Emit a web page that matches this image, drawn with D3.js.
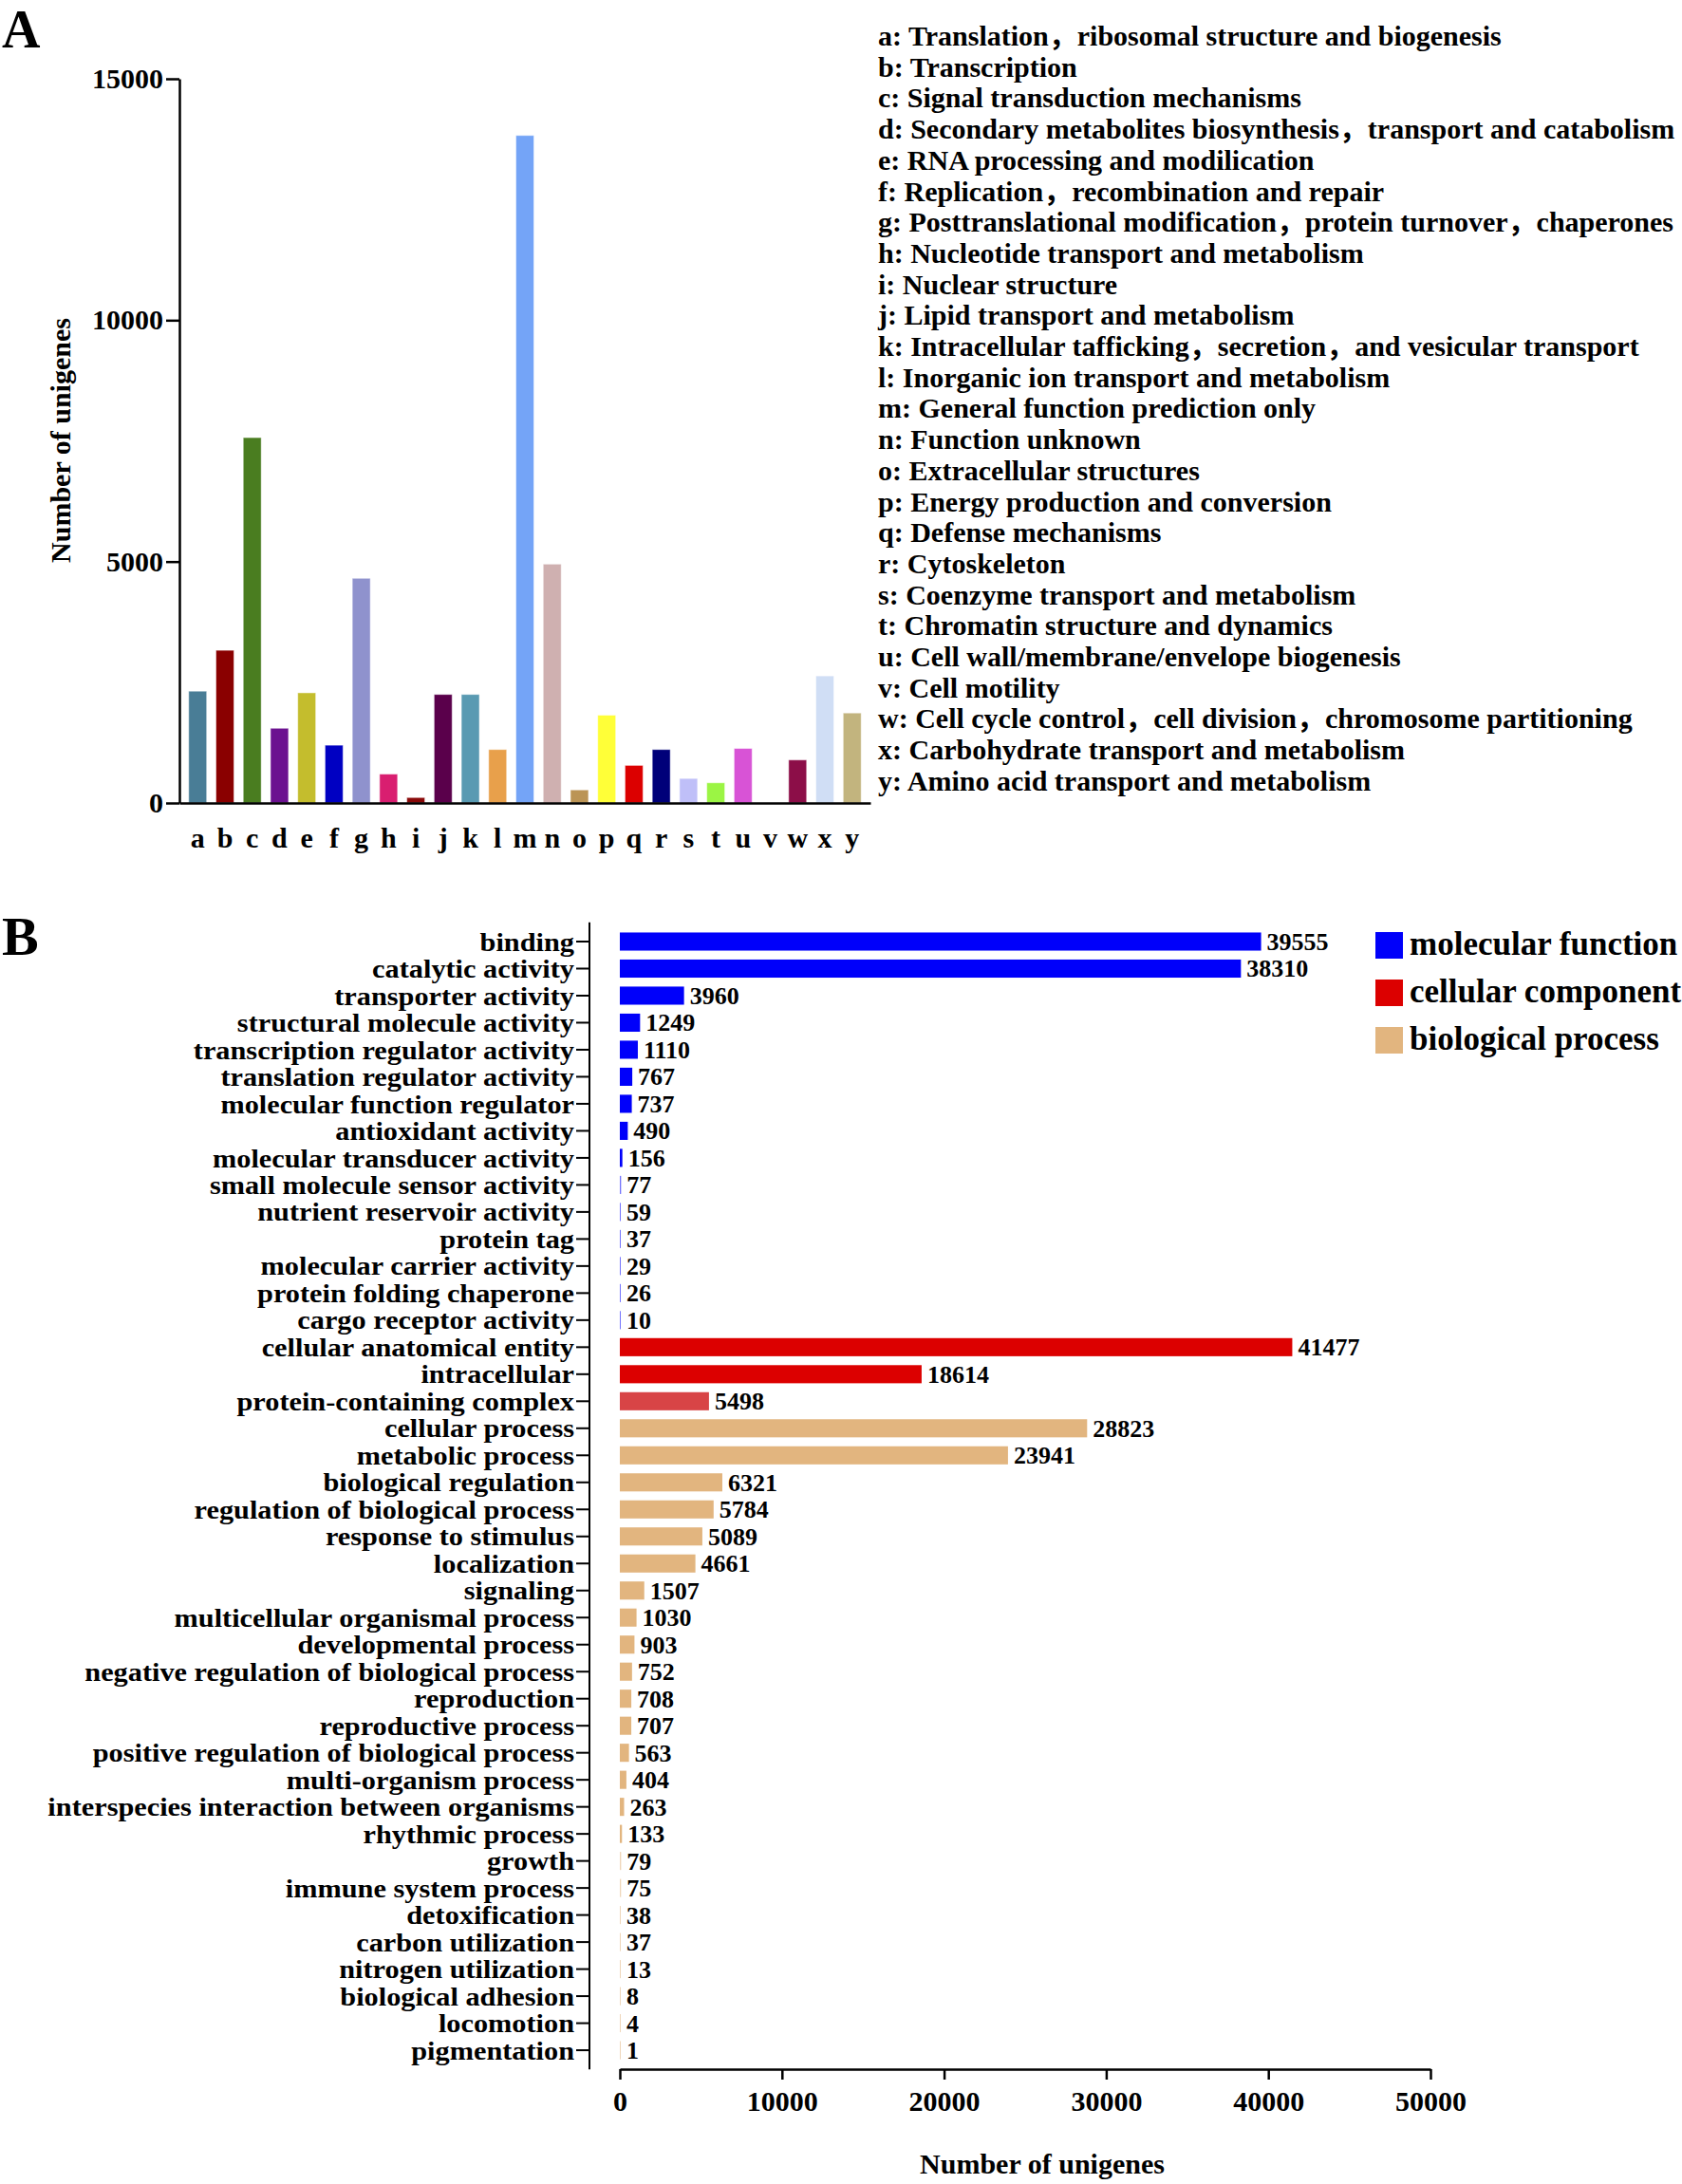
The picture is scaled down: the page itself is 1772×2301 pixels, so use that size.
<!DOCTYPE html>
<html><head><meta charset="utf-8">
<script src="https://cdn.jsdelivr.net/npm/d3@7"></script>
<style>
html,body{margin:0;padding:0;background:#fff;}
svg text{font-family:"Liberation Serif","Times New Roman",serif;font-weight:bold;fill:#000;}
svg text.legA{font-family:"Liberation Serif","Noto Sans CJK SC",serif;}
</style></head>
<body>
<svg id="chart" width="1772" height="2301"></svg>
<script>
// ---------- Panel A data ----------
const catsA = ["a","b","c","d","e","f","g","h","i","j","k","l","m","n","o","p","q","r","s","t","u","v","w","x","y"];
const valuesA = [2316,3163,7568,1548,2282,1197,4654,599,113,2248,2248,1107,13826,4948,271,1819,779,1107,508,418,1130,0,892,2632,1864];
const yTicksA = [0,5000,10000,15000];
const legendA = [
 "a: Translation，ribosomal structure and biogenesis",
 "b: Transcription",
 "c: Signal transduction mechanisms",
 "d: Secondary metabolites biosynthesis，transport and catabolism",
 "e: RNA processing and modilication",
 "f: Replication，recombination and repair",
 "g: Posttranslational modification，protein turnover，chaperones",
 "h: Nucleotide transport and metabolism",
 "i: Nuclear structure",
 "j: Lipid transport and metabolism",
 "k: Intracellular tafficking，secretion，and vesicular transport",
 "l: Inorganic ion transport and metabolism",
 "m: General function prediction only",
 "n: Function unknown",
 "o: Extracellular structures",
 "p: Energy production and conversion",
 "q: Defense mechanisms",
 "r: Cytoskeleton",
 "s: Coenzyme transport and metabolism",
 "t: Chromatin structure and dynamics",
 "u: Cell wall/membrane/envelope biogenesis",
 "v: Cell motility",
 "w: Cell cycle control，cell division，chromosome partitioning",
 "x: Carbohydrate transport and metabolism",
 "y: Amino acid transport and metabolism"
];
// style palette for panel A
const paletteA = ["#497d96","#8a0000","#4a7d20","#6b1190","#c4bd2d","#0000c2","#8f92cd","#d91e70","#8a0a0a","#5a004b",
 "#599ab2","#e8a04b","#74a4f7","#cfb0b0","#bb9455","#ffff38","#dc0000","#000079","#bfbff8","#9bf544",
 "#d853d6","#cccccc","#8c0e48","#d0def5","#c2b47e"];

// ---------- Panel B data ----------
const termsB = ["binding","catalytic activity","transporter activity","structural molecule activity","transcription regulator activity",
 "translation regulator activity","molecular function regulator","antioxidant activity","molecular transducer activity",
 "small molecule sensor activity","nutrient reservoir activity","protein tag","molecular carrier activity","protein folding chaperone",
 "cargo receptor activity","cellular anatomical entity","intracellular","protein-containing complex","cellular process",
 "metabolic process","biological regulation","regulation of biological process","response to stimulus","localization",
 "signaling","multicellular organismal process","developmental process","negative regulation of biological process",
 "reproduction","reproductive process","positive regulation of biological process","multi-organism process",
 "interspecies interaction between organisms","rhythmic process","growth","immune system process","detoxification",
 "carbon utilization","nitrogen utilization","biological adhesion","locomotion","pigmentation"];
const valuesB = [39555,38310,3960,1249,1110,767,737,490,156,77,59,37,29,26,10,41477,18614,5498,28823,23941,6321,5784,5089,4661,
 1507,1030,903,752,708,707,563,404,263,133,79,75,38,37,13,8,4,1];
const groupsB = ["MF","MF","MF","MF","MF","MF","MF","MF","MF","MF","MF","MF","MF","MF","MF","CC","CC","CC",
 "BP","BP","BP","BP","BP","BP","BP","BP","BP","BP","BP","BP","BP","BP","BP","BP","BP","BP","BP","BP","BP","BP","BP","BP"];
const groupNames = ["molecular function","cellular component","biological process"];
const groupKeys = ["MF","CC","BP"];
const xTicksB = [0,10000,20000,30000,40000,50000];
const groupColors = ["#0000fa","#dc0000","#e2b57f"];
const lighterTerm = {"protein-containing complex":"#d84446"};

const svg = d3.select("#chart");
svg.append("rect").attr("width",1772).attr("height",2301).attr("fill","#fff");

// ================= Panel A =================
const gA = svg.append("g");
gA.append("text").attr("x",2).attr("y",50).attr("font-size",56).text("A");

const xA = d3.scaleBand().domain(catsA).range([189,917]).paddingInner(0.34).paddingOuter(0.34);
const yA = d3.scaleLinear().domain([0,15000]).range([846,83]);
const colA = d3.scaleOrdinal().domain(catsA).range(paletteA);

gA.selectAll("rect.barA").data(catsA.map((c,i)=>({c,v:valuesA[i]}))).join("rect")
  .attr("class","barA")
  .attr("x",d=>xA(d.c)).attr("width",xA.bandwidth())
  .attr("y",d=>yA(d.v)).attr("height",d=>yA(0)-yA(d.v))
  .attr("fill",d=>colA(d.c)).attr("stroke","rgba(255,255,255,0.5)").attr("stroke-width",1);

const axYA = gA.append("g").attr("transform","translate(189,0)")
  .call(d3.axisLeft(yA).tickValues(yTicksA).tickSize(14).tickSizeOuter(0).tickPadding(3).tickFormat(d3.format("d")));
axYA.select(".domain").attr("stroke","#000").attr("stroke-width",2.5);
axYA.selectAll(".tick line").attr("stroke","#000").attr("stroke-width",2.5);
axYA.selectAll(".tick text").attr("font-size",30).attr("font-family",null).attr("fill","#000");

const axXA = gA.append("g").attr("transform","translate(0,846)")
  .call(d3.axisBottom(xA).tickSize(0).tickSizeOuter(0).tickPadding(26));
axXA.select(".domain").attr("stroke","#000").attr("stroke-width",2.5);
axXA.selectAll(".tick text").attr("font-size",30).attr("font-family",null).attr("fill","#000");

gA.append("text").attr("transform","translate(74,464) rotate(-90)").attr("text-anchor","middle")
  .attr("font-size",30).text("Number of unigenes");

gA.append("g").selectAll("text").data(legendA).join("text")
  .attr("class","legA")
  .attr("x",925).attr("y",(d,i)=>48+i*32.7).attr("font-size",30).text(d=>d);

// ================= Panel B =================
const gB = svg.append("g");
gB.append("text").attr("x",2).attr("y",1006).attr("font-size",58).text("B");

const yB = d3.scaleBand().domain(termsB).range([977.75,2174.3]).paddingInner(0.33).paddingOuter(0.165);
const xB = d3.scaleLinear().domain([0,50000]).range([653,1507]);
const colB = d3.scaleOrdinal().domain(groupKeys).range(groupColors);
const dataB = termsB.map((t,i)=>({t,v:valuesB[i],g:groupsB[i]}));

gB.selectAll("rect.barB").data(dataB).join("rect").attr("class","barB")
  .attr("x",xB(0)).attr("y",d=>yB(d.t)).attr("height",yB.bandwidth())
  .attr("width",d=>Math.max(xB(d.v)-xB(0),1))
  .attr("fill",d=>lighterTerm[d.t]||colB(d.g))
  .attr("opacity",d=>d.v<100?0.55:1);

gB.selectAll("text.valB").data(dataB).join("text").attr("class","valB")
  .attr("x",d=>Math.max(xB(d.v),xB(0)+1)+6).attr("y",d=>yB(d.t)+yB.bandwidth()/2+9)
  .attr("font-size",26).text(d=>d.v);

const axYB = gB.append("g").attr("transform","translate(621,0)")
  .call(d3.axisLeft(yB).tickSize(14).tickSizeOuter(0).tickPadding(2));
axYB.select(".domain").remove();
axYB.selectAll(".tick line").attr("stroke","#000").attr("stroke-width",2);
axYB.selectAll(".tick text").attr("font-size",28.2).attr("font-family",null).attr("fill","#000")
  .attr("x",null).attr("transform","translate(-16,0) scale(1.075,1)").attr("dy","0.34em");
gB.append("line").attr("x1",621).attr("x2",621).attr("y1",yB.range()[0]-6).attr("y2",yB.range()[1]+6)
  .attr("stroke","#000").attr("stroke-width",2);

const axXB = gB.append("g").attr("transform","translate(0,2180)")
  .call(d3.axisBottom(xB).tickValues(xTicksB).tickSize(11).tickSizeOuter(0).tickPadding(12).tickFormat(d3.format("d")));
axXB.select(".domain").attr("stroke","#000").attr("stroke-width",2.5);
axXB.selectAll(".tick line").attr("stroke","#000").attr("stroke-width",2.5);
axXB.selectAll(".tick text").attr("font-size",30).attr("font-family",null).attr("fill","#000");

gB.append("text").attr("x",1098).attr("y",2290).attr("text-anchor","middle").attr("font-size",30).text("Number of unigenes");

const legB = gB.append("g").selectAll("g").data(groupNames).join("g")
  .attr("transform",(d,i)=>`translate(1449,${982+i*50})`);
legB.append("rect").attr("width",29).attr("height",28).attr("fill",(d,i)=>groupColors[i]);
legB.append("text").attr("x",36).attr("y",24).attr("font-size",35).text(d=>d);
</script>
</body></html>
